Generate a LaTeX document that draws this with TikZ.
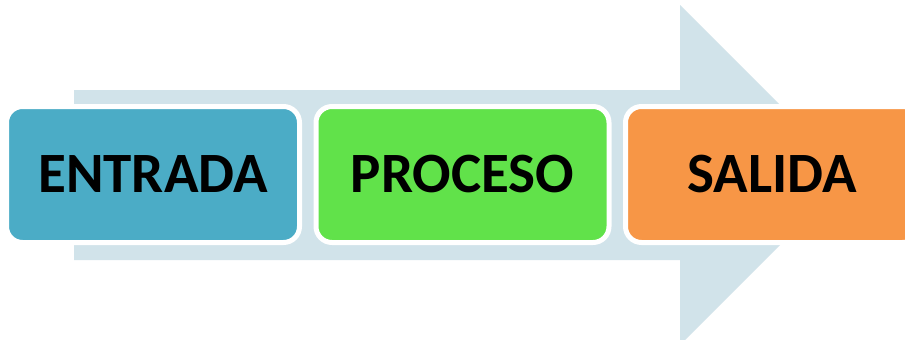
\documentclass[tikz,border=0pt]{standalone}
\usepackage{fontspec}
\setmainfont{Carlito}
\usepackage{tikz}
\usetikzlibrary{positioning}
\definecolor{flowaqua}{HTML}{4BACC6}
\definecolor{flowgreen}{HTML}{61E24A}
\definecolor{floworange}{HTML}{F79646}
\definecolor{flowpale}{HTML}{D1E3EA}
\tikzset{
  stagebox/.style={
    rounded corners=16pt,
    draw=white,
    line width=5pt,
    outer sep=0pt,
    minimum width=293pt,
    minimum height=136pt,
    align=center,
    inner sep=0pt,
    font=\fontsize{57}{60}\selectfont\bfseries
  },
  bigarrow/.style={
    fill=flowpale,
    draw=none
  }
}
\begin{document}
\begin{tikzpicture}[x=1pt, y=-1pt, node distance=16.5pt]
\clip (0,0) rectangle (905,340);
\fill[white] (0,0) rectangle (905,340);
\fill[bigarrow] (74,90) -- (680,90) -- (680,5) -- (850,175) -- (680,345)
  -- (680,260) -- (74,260) -- cycle;
\node[stagebox, fill=flowaqua] (entrada) at (153,174.5) {ENTRADA};
\node[stagebox, fill=flowgreen, right=of entrada] (proceso) {PROCESO};
\node[stagebox, fill=floworange, right=of proceso] (salida) {SALIDA};
\end{tikzpicture}
\end{document}
